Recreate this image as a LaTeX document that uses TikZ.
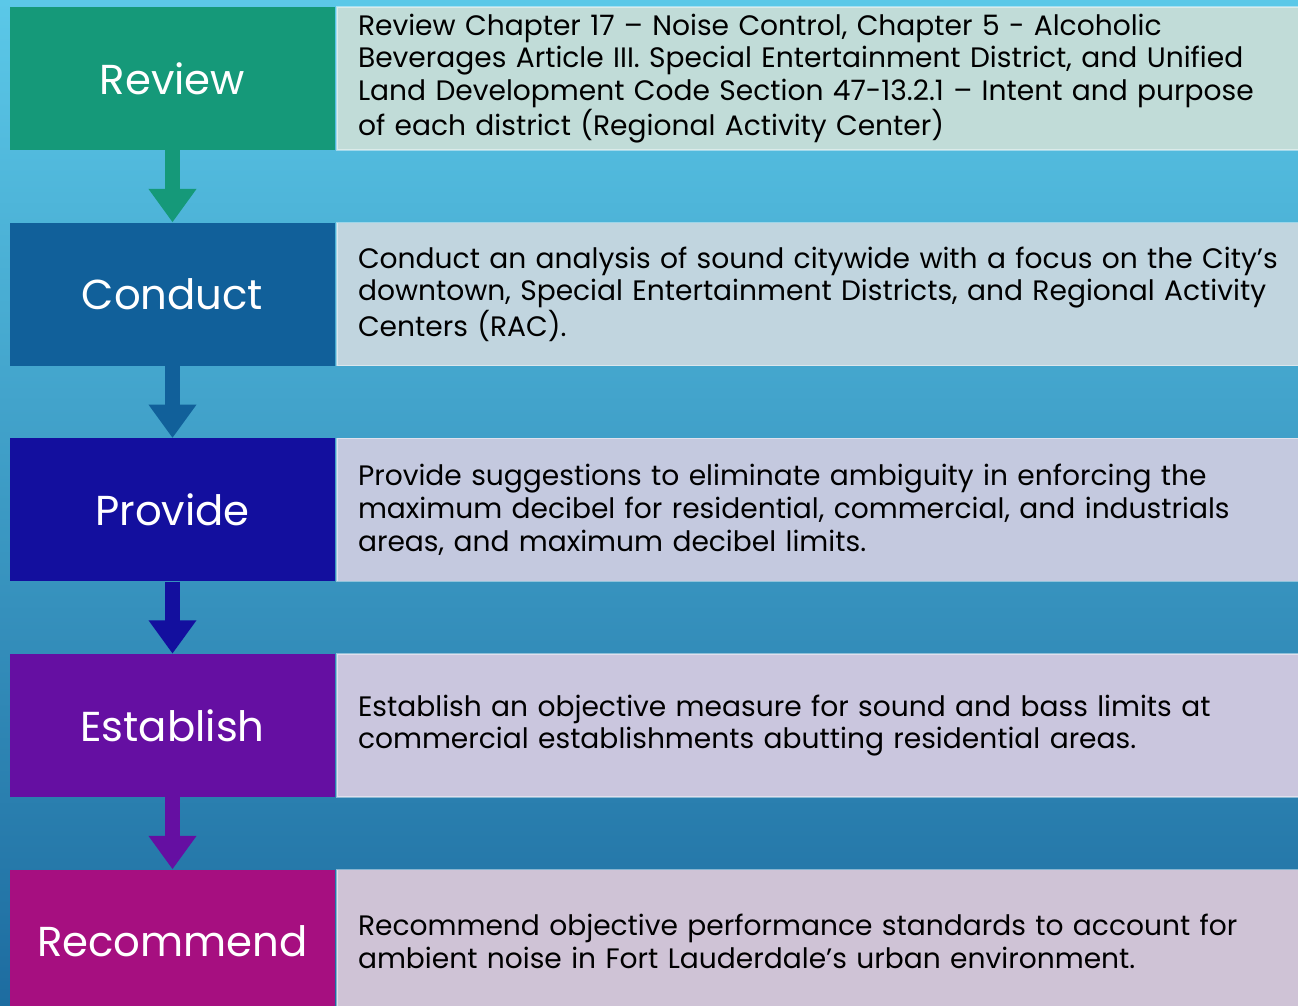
\documentclass[tikz,border=0pt]{standalone}
\usepackage{fontspec}
\setmainfont{Poppins}
\usetikzlibrary{positioning, arrows.meta}

\definecolor{bgtop}{HTML}{5BC8E8}
\definecolor{bgbot}{HTML}{1D6CA0}
\definecolor{revcol}{HTML}{159979}
\definecolor{concol}{HTML}{11609A}
\definecolor{procol}{HTML}{130F9E}
\definecolor{estcol}{HTML}{650FA2}
\definecolor{reccol}{HTML}{A60F80}
\definecolor{revlt}{HTML}{C1DCD8}
\definecolor{conlt}{HTML}{C1D5DF}
\definecolor{prolt}{HTML}{C4C9DF}
\definecolor{estlt}{HTML}{CAC6DE}
\definecolor{reclt}{HTML}{CFC3D6}

\tikzset{
  stage/.style={minimum width=6.5cm, minimum height=2.86cm, inner sep=0pt,
    text=white, font=\fontsize{23.8}{27}\selectfont},
  detail/.style={minimum width=19.24cm, minimum height=2.86cm, inner xsep=0.42cm,
    inner ysep=0pt, text width=18.8cm, align=left, draw=white, draw opacity=0.45,
    line width=0.8pt, font=\fontsize{16}{18.6}\selectfont},
  flow/.style={line width=8pt, -{Triangle[width=26pt,length=19pt]}}
}

\begin{document}
\begin{tikzpicture}[x=0.02cm, y=0.02cm, node distance=1.44cm]
   % Background
   \shade[top color=bgtop, bottom color=bgbot] (0,0) rectangle (1298,-1005);
   \useasboundingbox (0,0) rectangle (1298,-1005);

   % Steps
   \node[stage, fill=revcol] (review) at (172.5,-78.5) {Review};
   \node[stage, fill=concol] (conduct) [below=of review] {Conduct};
   \node[stage, fill=procol] (provide) [below=of conduct] {Provide};
   \node[stage, fill=estcol] (establish) [below=of provide] {Establish};
   \node[stage, fill=reccol] (recommend) [below=of establish] {Recommend};

   % Descriptions
   \node[detail, fill=revlt] (reviewtxt) [right=0.02cm of review]
     {Review Chapter 17 – Noise Control, Chapter 5 - Alcoholic\\
      Beverages Article III. Special Entertainment District, and Unified\\
      Land Development Code Section 47-13.2.1 – Intent and purpose\\
      of each district (Regional Activity Center)};
   \node[detail, fill=conlt] (conducttxt) [right=0.02cm of conduct]
     {Conduct an analysis of sound citywide with a focus on the City’s\\
      downtown, Special Entertainment Districts, and Regional Activity\\
      Centers (RAC).};
   \node[detail, fill=prolt] (providetxt) [right=0.02cm of provide]
     {Provide suggestions to eliminate ambiguity in enforcing the\\
      maximum decibel for residential, commercial, and industrials\\
      areas, and maximum decibel limits.};
   \node[detail, fill=estlt] (establishtxt) [right=0.02cm of establish]
     {Establish an objective measure for sound and bass limits at\\
      commercial establishments abutting residential areas.};
   \node[detail, fill=reclt] (recommendtxt) [right=0.02cm of recommend]
     {Recommend objective performance standards to account for\\
      ambient noise in Fort Lauderdale’s urban environment.};

   % Arrows
   \draw[flow, revcol] (review) -- (conduct);
   \draw[flow, concol] (conduct) -- (provide);
   \draw[flow, procol] (provide) -- (establish);
   \draw[flow, estcol] (establish) -- (recommend);
\end{tikzpicture}
\end{document}
